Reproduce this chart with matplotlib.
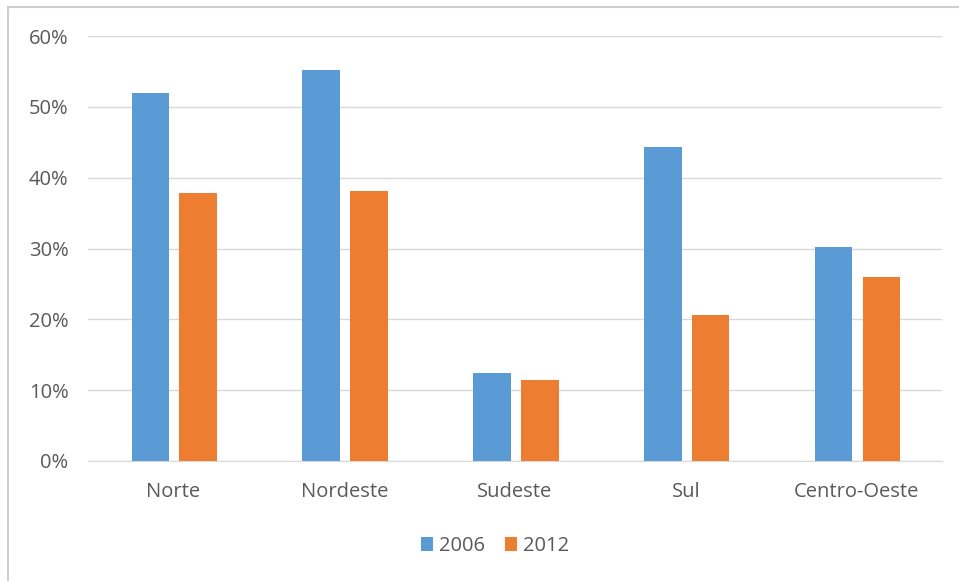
import matplotlib.pyplot as plt
from matplotlib.patches import Rectangle
import numpy as np

regioes = ["Norte", "Nordeste", "Sudeste", "Sul", "Centro-Oeste"]
anos = ["2006", "2012"]
v2006 = [52.0, 55.2, 12.4, 44.3, 30.2]
v2012 = [37.8, 38.1, 11.4, 20.6, 26.0]

azul = "#5B9BD5"
laranja = "#ED7D31"
cinza = "#595959"

plt.rcParams['font.family'] = ['Open Sans', 'DejaVu Sans']

fig = plt.figure(figsize=(9.59, 5.81), dpi=100)
ax = fig.add_axes([88/959, 1-461/581, (942-88)/959, (461-36)/581])

x = np.arange(len(regioes))
w = 0.22
ax.bar(x - 0.135, v2006, w, color=azul, label=anos[0], zorder=3)
ax.bar(x + 0.145, v2012, w, color=laranja, label=anos[1], zorder=3)

ax.set_xlim(-0.5, len(regioes) - 0.5)
ax.set_ylim(0, 60)
ax.set_yticks(range(0, 61, 10))
ax.set_yticklabels([f"{t}%" for t in range(0, 61, 10)])
ax.set_xticks(x)
ax.set_xticklabels(regioes)
ax.grid(axis='y', color="#D9D9D9", linewidth=1, zorder=0)
for s in ["top", "right", "left"]:
    ax.spines[s].set_visible(False)
ax.spines["bottom"].set_color("#D9D9D9")
ax.tick_params(length=0, colors=cinza, labelsize=14.5)
ax.tick_params(axis='x', pad=15)
ax.tick_params(axis='y', pad=14)

fig.legend(loc="center", bbox_to_anchor=(495/959, 1-546/581), ncol=2, frameon=False,
           fontsize=14.5, labelcolor=cinza, handlelength=0.6, handleheight=0.7,
           handletextpad=0.3, columnspacing=1.0)

# moldura do gráfico
fig.patches.append(Rectangle((8/959, -0.1), 1.1, 1 - 7/581 + 0.1, transform=fig.transFigure,
                             fill=False, edgecolor="#D0D0D0", linewidth=1.5))

fig.savefig("out.png", dpi=100)
